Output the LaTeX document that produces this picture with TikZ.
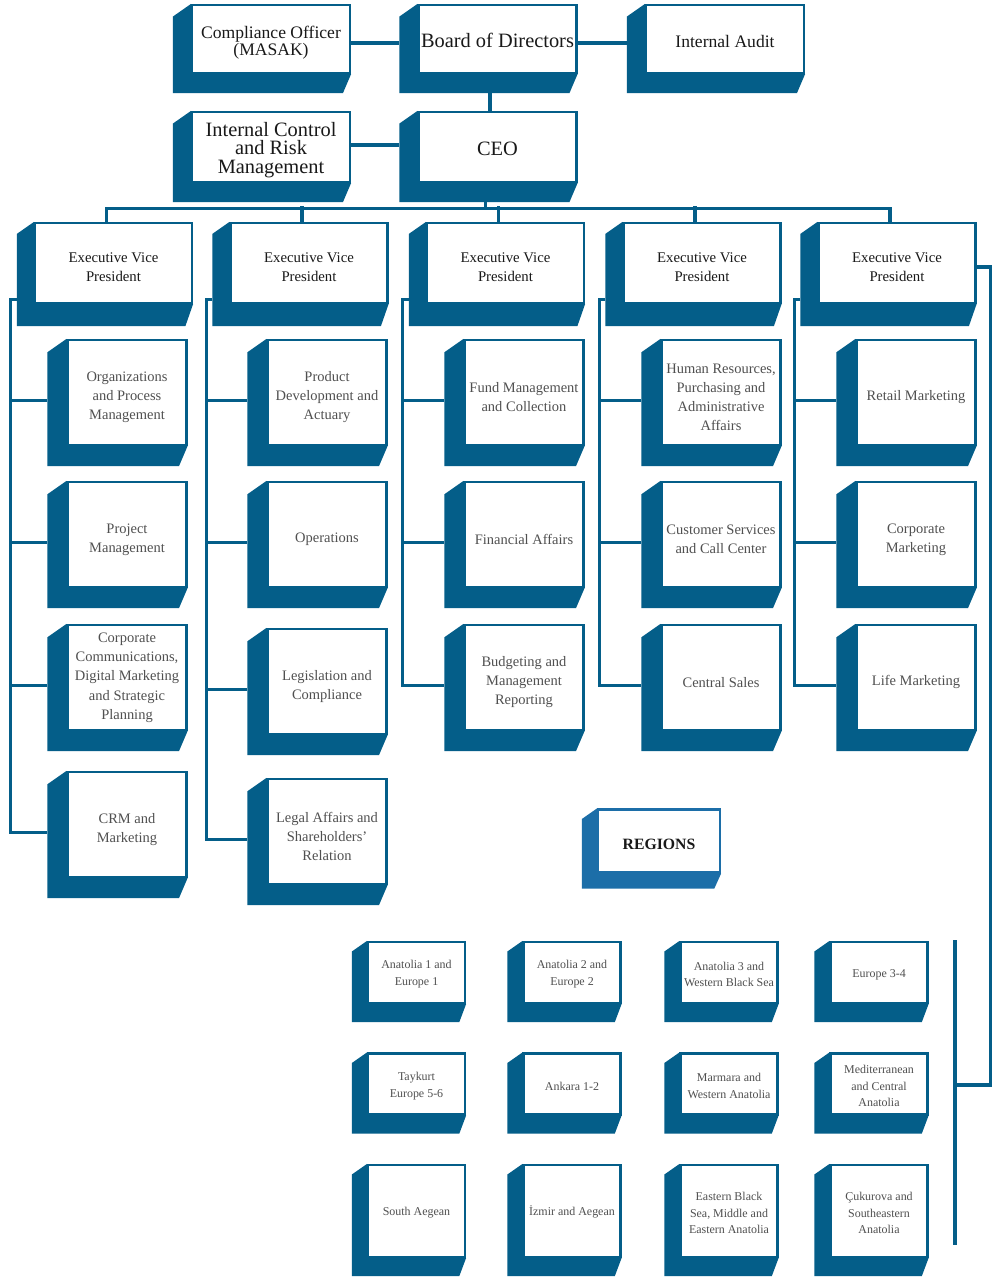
\documentclass[tikz,border=0pt]{standalone}
\usepackage{fontspec}
\setmainfont{Liberation Serif}
\usetikzlibrary{calc,positioning}

\definecolor{deepblue}{RGB}{4,94,137}
\definecolor{brushblue}{RGB}{28,110,168}
\definecolor{headtext}{RGB}{25,25,25}
\definecolor{subtext}{RGB}{80,80,80}

\tikzset{
  box/.style={draw=deepblue, line width=1.5pt, fill=white, align=center, inner sep=1pt},
  topbox/.style={box, minimum width=3.95cm, minimum height=1.7cm, text=headtext,
    font=\fontsize{14.5}{13}\selectfont, text height=12.9pt},
  evpbox/.style={box, minimum width=3.925cm, minimum height=2cm, text=headtext,
    font=\fontsize{10.5}{13.5}\selectfont, text height=26.3pt},
  subbox/.style={box, minimum width=2.975cm, minimum height=2.625cm, text=subtext,
    font=\fontsize{10.3}{13.6}\selectfont, text height=14pt},
  regbox/.style={box, minimum width=2.425cm, minimum height=1.525cm, text=subtext,
    font=\fontsize{8.5}{12}\selectfont, text height=8.6pt},
  % text height for boxes of two to five lines
  sub2/.style={text height=27.6pt}, sub3/.style={text height=41.2pt},
  sub4/.style={text height=54.8pt}, sub5/.style={text height=61.5pt},
  reg2/.style={text height=20.6pt}, reg3/.style={text height=32.6pt},
  link/.style={draw=deepblue, line width=2.2pt},
}

% dark side and bottom of a box: node, depth, drop
\newcommand{\extrude}[4][deepblue]{%
  \fill[#1] (#2.north west) -- ++(-#3,{0.7*#3}) -- ($(#2.south west)+(-#3,#4)$)
    -- ($(#2.south east)+({-0.45*#3},#4)$) -- (#2.south east) -- (#2.south west) -- cycle;}

\begin{document}
\begin{tikzpicture}[x=0.025cm, y=-0.025cm]
\useasboundingbox[fill=white] (0,0) rectangle (999,1278);

% board level
\node[topbox, font=\fontsize{12.5}{12}\selectfont, text height=26.2pt] (compliance) at (271,39) {Compliance Officer\\(MASAK)};
\node[topbox] (board) at (497.5,39) {Board of Directors};
\node[topbox, font=\fontsize{12.5}{12}\selectfont] (audit) at (725,39) {Internal Audit};
\node[topbox, minimum height=1.75cm, text height=40.1pt] (intcontrol) at (271,147) {Internal Control\\and Risk\\Management};
\node[topbox, minimum height=1.75cm] (ceo) at (497.5,147) {CEO};
\foreach \n in {compliance,board,audit,intcontrol,ceo} {\extrude{\n}{18}{19}}

\draw[link] ($(compliance.east)+(0,4)$) -- ($(board.west)+(-18,4)$);
\draw[link] ($(board.east)+(0,4)$) -- ($(audit.west)+(-18,4)$);
\draw[link] ($(intcontrol.east)+(0,-2)$) -- ($(ceo.west)+(-18,-2)$);
\draw[link] ($(board.south)+(-7.5,19)$) -- ($(ceo.north)+(-7.5,0)$);

% executive vice presidents
\node[evpbox] (evp1) at (113.5,263) {Executive Vice\\President};
\node[evpbox] (evp2) at (309,263) {Executive Vice\\President};
\node[evpbox] (evp3) at (505.5,263) {Executive Vice\\President};
\node[evpbox] (evp4) at (702,263) {Executive Vice\\President};
\node[evpbox] (evp5) at (897,263) {Executive Vice\\President};
\foreach \n in {evp1,evp2,evp3,evp4,evp5} {\extrude{\n}{17}{22}}

\path ($(ceo.south)+(-12,25)$) coordinate (bus);
\draw[link] ($(ceo.south)+(-12,18)$) -- (bus);
\draw[link] ($(evp1.north)+(-7,0)$) |- (bus) -| ($(evp5.north)+(-7,0)$);
\foreach \n in {evp2,evp3,evp4} \draw[link] ($(\n.north)+(-7,0)$) -- ($(\n.north)+(-7,-16)$);

% first column
\node[subbox, sub3] (org) at (127,392.5) {Organizations\\and Process\\Management};
\node[subbox, sub2] (projmgmt) at (127,534.5) {Project\\Management};
\node[subbox, sub5] (corpcomm) at (127,677.5) {Corporate\\Communications,\\Digital Marketing\\and Strategic\\Planning};
\node[subbox, sub2] (crm) at (127,824.5) {CRM and\\Marketing};

% second column
\node[subbox, sub3] (proddev) at (327,392.5) {Product\\Development and\\Actuary};
\node[subbox] (operations) at (327,534.5) {Operations};
\node[subbox, sub2] (legislation) at (327,681.5) {Legislation and\\Compliance};
\node[subbox, sub3] (legal) at (327,831.5) {Legal Affairs and\\Shareholders’\\Relation};

% third column
\node[subbox, sub2] (fundmgmt) at (524,392.5) {Fund Management\\and Collection};
\node[subbox] (finaffairs) at (524,534.5) {Financial Affairs};
\node[subbox, sub3] (budgeting) at (524,677.5) {Budgeting and\\Management\\Reporting};

% fourth column
\node[subbox, sub4] (hr) at (721,392.5) {Human Resources,\\Purchasing and\\Administrative\\Affairs};
\node[subbox, sub2] (custserv) at (721,534.5) {Customer Services\\and Call Center};
\node[subbox] (centralsales) at (721,677.5) {Central Sales};

% fifth column
\node[subbox] (retail) at (916,392.5) {Retail Marketing};
\node[subbox, sub2] (corpmkt) at (916,534.5) {Corporate\\Marketing};
\node[subbox] (lifemkt) at (916,677.5) {Life Marketing};

\foreach \n in {org,projmgmt,corpcomm,crm,proddev,operations,legislation,legal,
  fundmgmt,finaffairs,budgeting,hr,custserv,centralsales,retail,corpmkt,lifemkt} {\extrude{\n}{19}{20}}

% spines from each vice president
\draw[link] ($(evp1.south west)+(-17,-5)$) -- ++(-6,0) coordinate (spine1) |- ($(crm.west)+(-19,8)$);
\draw[link] ($(evp2.south west)+(-17,-5)$) -- ++(-6,0) coordinate (spine2) |- ($(legal.west)+(-19,8)$);
\draw[link] ($(evp3.south west)+(-17,-5)$) -- ++(-6,0) coordinate (spine3) |- ($(budgeting.west)+(-19,8)$);
\draw[link] ($(evp4.south west)+(-17,-5)$) -- ++(-6,0) coordinate (spine4) |- ($(centralsales.west)+(-19,8)$);
\draw[link] ($(evp5.south west)+(-17,-5)$) -- ++(-6,0) coordinate (spine5) |- ($(lifemkt.west)+(-19,8)$);
\foreach \s/\n in {1/org,1/projmgmt,1/corpcomm,2/proddev,2/operations,2/legislation,
  3/fundmgmt,3/finaffairs,4/hr,4/custserv,5/retail,5/corpmkt} {
  \path ($(\n.west)+(-19,8)$) coordinate (tip);
  \draw[link] (tip) -- (tip -| spine\s);
}

% regions
\node[box, minimum width=3.05cm, minimum height=1.575cm, text=headtext,
  font=\fontsize{11.2}{13}\selectfont\bfseries, draw=brushblue,
  text height=12pt] (regions) at (659,841) {REGIONS};
\extrude[brushblue]{regions}{15}{15}

\node[regbox, reg2] (anat1) at (416.5,972.5) {Anatolia 1 and\\Europe 1};
\node[regbox, reg2] (anat2) at (572,972.5) {Anatolia 2 and\\Europe 2};
\node[regbox, reg2] (anat3) at (729,972.5) {Anatolia 3 and\\Western Black Sea};
\node[regbox] (eur34) at (879,972.5) {Europe 3-4};
\node[regbox, reg2] (taykurt) at (416.5,1084) {Taykurt\\Europe 5-6};
\node[regbox] (ankara) at (572,1084) {Ankara 1-2};
\node[regbox, reg2] (marmara) at (729,1084) {Marmara and\\Western Anatolia};
\node[regbox, reg3] (medit) at (879,1084) {Mediterranean\\and Central\\Anatolia};
\node[regbox, minimum height=2.3cm] (saegean) at (416.5,1211) {South Aegean};
\node[regbox, minimum height=2.3cm] (izmir) at (572,1211) {İzmir and Aegean};
\node[regbox, reg3, minimum height=2.3cm] (eastbs) at (729,1211) {Eastern Black\\Sea, Middle and\\Eastern Anatolia};
\node[regbox, reg3, minimum height=2.3cm] (cukurova) at (879,1211) {Çukurova and\\Southeastern\\Anatolia};
\foreach \n in {anat1,anat2,anat3,eur34,taykurt,ankara,marmara,medit,saegean,izmir,eastbs,cukurova} {\extrude{\n}{15}{18}}

\coordinate (regtop) at (955,940);
\coordinate (regjoin) at (955,1085);
\coordinate (regbot) at (955,1245);
\draw[link] ($(evp5.east)+(0,4)$) -- ++(14,0) |- (regjoin);
\draw[link] (regtop) -- (regbot);
\end{tikzpicture}
\end{document}
